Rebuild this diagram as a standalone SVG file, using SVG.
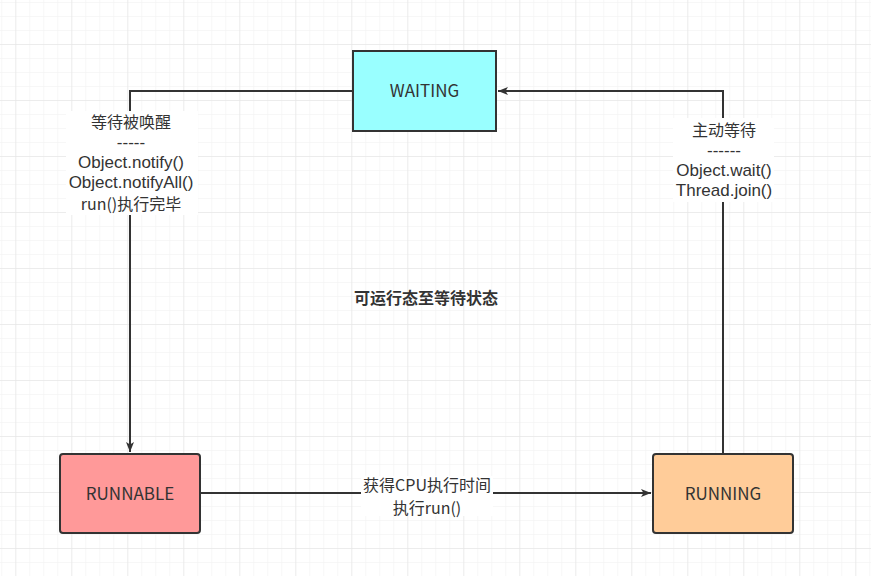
<svg xmlns="http://www.w3.org/2000/svg" width="871" height="576" viewBox="0 0 871 576">
<defs>
<pattern id="minor" x="1.3" y="2" width="14" height="14" patternUnits="userSpaceOnUse">
<path d="M0 0H14M0 0V14" fill="none" stroke="#efefef" stroke-width="1"/>
</pattern>
<pattern id="major" x="15.3" y="44" width="56" height="56" patternUnits="userSpaceOnUse">
<path d="M0 0H56M0 0V56" fill="none" stroke="#e2e2e2" stroke-width="1"/>
</pattern>
<marker id="arr" viewBox="0 0 10 10" refX="10" refY="5" markerWidth="10" markerHeight="10" markerUnits="userSpaceOnUse" orient="auto">
<path d="M0 1L10 5L0 9L2.5 5Z" fill="#333"/>
</marker>
</defs>
<style>
.node{stroke:#333;stroke-width:2}
.t{font-family:"Noto Sans CJK SC","Noto Sans",sans-serif;font-size:17px;fill:#333;text-anchor:middle}
.lbl{font-family:"Noto Sans CJK SC","Noto Sans",sans-serif;font-size:16px;fill:#333;text-anchor:middle}
.lat{font-family:"Liberation Sans",Arial,sans-serif;font-size:17px;fill:#333;text-anchor:middle}
.edge{fill:none;stroke:#333;stroke-width:2}
</style>
<rect width="871" height="576" fill="#fff"/>
<rect width="871" height="576" fill="url(#minor)"/>
<rect width="871" height="576" fill="url(#major)"/>
<g id="connectors">
<path class="edge" d="M353 91H130V452" marker-end="url(#arr)"/>
<path class="edge" d="M723 454V91H498" marker-end="url(#arr)"/>
<path class="edge" d="M200 493H651" marker-end="url(#arr)"/>
<rect x="66" y="111" width="132" height="104" fill="#fff"/>
<text class="lbl" x="131" y="128">等待被唤醒</text>
<text class="lat" x="131" y="148">-----</text>
<text class="lat" x="131" y="168">Object.notify()</text>
<text class="lat" x="131" y="188">Object.notifyAll()</text>
<text class="lbl" x="131" y="210">run()执行完毕</text>
<rect x="673" y="118" width="101" height="84" fill="#fff"/>
<text class="lbl" x="724" y="136">主动等待</text>
<text class="lat" x="724" y="156">------</text>
<text class="lat" x="724" y="176">Object.wait()</text>
<text class="lat" x="724" y="196">Thread.join()</text>
<rect x="361" y="476" width="132" height="40" fill="#fff"/>
<text class="lbl" x="427" y="491">获得CPU执行时间</text>
<text class="lbl" x="427" y="514">执行run()</text>
</g>
<g id="waiting">
<rect class="node" x="353" y="51" width="143" height="80" fill="#99ffff"/>
<text class="t" x="424.5" y="97">WAITING</text>
</g>
<g id="runnable">
<rect class="node" x="60" y="454" width="140" height="79" rx="3" fill="#ff9999"/>
<text class="t" x="130" y="499.5">RUNNABLE</text>
</g>
<g id="running">
<rect class="node" x="653" y="454" width="140" height="79" rx="3" fill="#ffcc99"/>
<text class="t" x="723" y="499.5">RUNNING</text>
</g>
<g id="title">
<text class="t" x="426" y="303.5" font-weight="bold" style="font-size:16px">可运行态至等待状态</text>
</g>
</svg>
